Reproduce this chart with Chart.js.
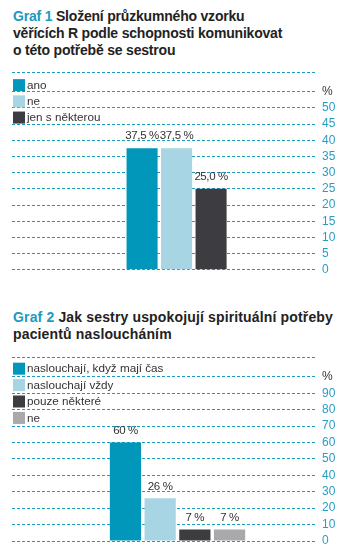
<!DOCTYPE html>
<html>
<head>
<meta charset="utf-8">
<script src="https://cdn.jsdelivr.net/npm/chart.js@4"></script>
<style>
  body { margin: 0; background: #fff; width: 346px; height: 558px; position: relative; overflow: hidden; }
  .title { position: absolute; left: 13px; font: bold 14px "Liberation Sans", Arial, sans-serif; line-height: 17px; color: #222; letter-spacing: -0.2px; }
  .title b { color: #1b9ac2; }
  .box { position: absolute; left: 0; width: 346px; }
</style>
</head>
<body>
<div class="title" style="top:8px"><b>Graf 1</b> Složení průzkumného vzorku<br>věřících R podle schopnosti komunikovat<br>o této potřebě se sestrou</div>
<div class="box" style="top:60px;height:222px"><canvas id="graf1"></canvas></div>
<div class="title" style="top:309px;letter-spacing:0.15px"><b>Graf 2</b> Jak sestry uspokojují spirituální potřeby<br>pacientů nasloucháním</div>
<div class="box" style="top:345px;height:213px"><canvas id="graf2"></canvas></div>
<script>
const cats1 = ['ano', 'ne', 'jen s některou'];
const vals1 = [37.5, 37.5, 25.0];
const ticks1 = [0, 5, 10, 15, 20, 25, 30, 35, 40, 45, 50, 55, 61];
const tickLabels1 = ['0', '5', '10', '15', '20', '25', '30', '35', '40', '45', '50', '%', ''];

const cats2 = ['naslouchají, když mají čas', 'naslouchají vždy', 'pouze některé', 'ne'];
const vals2 = [60, 26, 7, 7];
const ticks2 = [0, 10, 20, 30, 40, 50, 60, 70, 80, 90, 100, 112];
const tickLabels2 = ['0', '10', '20', '30', '40', '50', '60', '70', '80', '90', '%', ''];

const teal = '#1a9bc1';
const palette = ['#0097ba', '#a7d5e3', '#3d3c41', '#a9a9ab'];
const font = '"Liberation Sans", Arial, sans-serif';

// values above the bars
const barLabels = {
  id: 'barLabels',
  afterDatasetsDraw(chart, args, o) {
    const ctx = chart.ctx;
    const vals = chart.data.datasets[0].data;
    ctx.save();
    ctx.font = '11.5px ' + font;
    ctx.letterSpacing = '-0.4px';
    ctx.fillStyle = '#333';
    ctx.textAlign = 'center';
    ctx.textBaseline = 'middle';
    chart.getDatasetMeta(0).data.forEach((bar, i) => {
      ctx.fillText(o.format(vals[i].y), bar.x, bar.y - 12);
    });
    ctx.restore();
  }
};

// legend inside the plot, one row per category
const rowLegend = {
  id: 'rowLegend',
  afterDatasetsDraw(chart, args, o) {
    const ctx = chart.ctx;
    const y = chart.scales.y;
    const left = chart.chartArea.left + 1;
    ctx.save();
    ctx.font = '11.7px ' + font;
    ctx.textBaseline = 'middle';
    chart.data.labels.forEach((lab, i) => {
      const py = y.getPixelForValue(o.rows[i]);
      ctx.fillStyle = palette[i];
      ctx.fillRect(left, py - 6, 12, 12);
      ctx.fillStyle = '#333';
      ctx.fillText(lab, left + 14, py + 0.5);
    });
    ctx.restore();
  }
};

function makeChart(id, cats, vals, ticks, tickLabels, o) {
  return new Chart(document.getElementById(id), {
    type: 'bar',
    data: {
      labels: cats,
      datasets: [{
        data: vals.map((v, i) => ({ x: i, y: v })),
        backgroundColor: palette.slice(0, cats.length),
        barPercentage: 0.9,
        categoryPercentage: 1
      }]
    },
    options: {
      responsive: true,
      maintainAspectRatio: false,
      animation: false,
      layout: { padding: o.padding },
      plugins: {
        legend: { display: false },
        tooltip: { enabled: false },
        barLabels: { format: o.format },
        rowLegend: { rows: o.rows }
      },
      scales: {
        x: { type: 'linear', display: false, offset: false, min: o.xmin, max: o.xmax },
        y: {
          position: 'right',
          min: 0,
          max: ticks[ticks.length - 1],
          afterBuildTicks: s => { s.ticks = ticks.map(v => ({ value: v })); },
          afterFit: s => { s.width = 29; },
          grid: { color: teal, lineWidth: 1, drawTicks: false },
          border: { display: false, dash: [3, 2] },
          ticks: {
            autoSkip: false,
            padding: 5,
            font: { size: 12, family: font },
            color: c => tickLabels[c.index] === '%' ? '#333' : '#2a9dc4',
            callback: (v, i) => tickLabels[i]
          }
        }
      }
    },
    plugins: [barLabels, rowLegend]
  });
}

makeChart('graf1', cats1, vals1, ticks1, tickLabels1, {
  padding: { left: 12, top: 7, bottom: 10, right: 0 },
  xmin: -3.77, xmax: 5.07,
  rows: [57, 52, 47],
  format: v => v.toFixed(1).replace('.', ',') + ' %'
});

makeChart('graf2', cats2, vals2, ticks2, tickLabels2, {
  padding: { left: 12, top: 8, bottom: 17, right: 0 },
  xmin: -3.27, xmax: 5.52,
  rows: [105, 95, 85, 75],
  format: v => v + ' %'
});
</script>
</body>
</html>
